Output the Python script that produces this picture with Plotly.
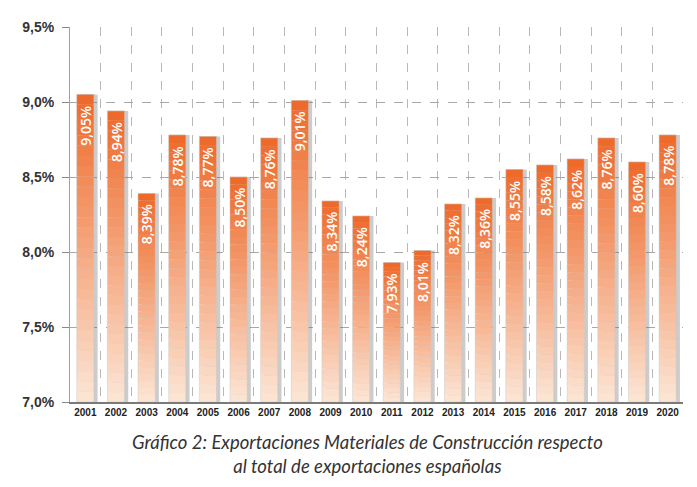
import plotly.graph_objects as go

years = [str(y) for y in range(2001, 2021)]
values = [9.05, 8.94, 8.39, 8.78, 8.77, 8.50, 8.76, 9.01, 8.34, 8.24,
          7.93, 8.01, 8.32, 8.36, 8.55, 8.58, 8.62, 8.76, 8.60, 8.78]
labels = [f"{v:.2f}".replace(".", ",") + "%" for v in values]
y_ticks = [7.0, 7.5, 8.0, 8.5, 9.0, 9.5]
y_tick_labels = ["7,0%", "7,5%", "8,0%", "8,5%", "9,0%", "9,5%"]
BASE = 7.0

top_rgb = (238, 104, 40)
bot_rgb = (252, 230, 214)
N = 30
BW = 0.56

fig = go.Figure()

# shadow
fig.add_trace(go.Bar(
    x=years, y=[v - BASE for v in values], base=BASE, width=BW,
    offset=-BW / 2 + 0.12, marker=dict(color="rgba(110,110,110,0.35)", line=dict(width=0)),
    hoverinfo="skip", showlegend=False))

for k in range(N):
    t = (k + 0.5) / N  # 0 bottom -> 1 top
    c = tuple(int(round(bot_rgb[i] + (top_rgb[i] - bot_rgb[i]) * t)) for i in range(3))
    fig.add_trace(go.Bar(
        x=years,
        y=[(v - BASE) / N * 1.02 for v in values],
        base=[BASE + (v - BASE) * k / N for v in values],
        width=BW, offset=-BW / 2,
        marker=dict(color=f"rgb{c}", line=dict(width=0)),
        hoverinfo="skip", showlegend=False))

# outline trace
fig.add_trace(go.Bar(
    x=years, y=[v - BASE for v in values], base=BASE, width=BW, offset=-BW / 2,
    marker=dict(color="rgba(0,0,0,0)", line=dict(color="rgba(200,200,200,0.6)", width=0.8)),
    hoverinfo="skip", showlegend=False))

annotations = []
for i, (v, lab) in enumerate(zip(values, labels)):
    annotations.append(dict(
        x=i, y=v, xref="x", yref="y", text=lab, textangle=-90,
        xanchor="center", yanchor="top", yshift=-9, showarrow=False,
        font=dict(family="Open Sans", size=14, color="white", weight=600)))

annotations.append(dict(
    text="<i>Gráfico 2: Exportaciones Materiales de Construcción respecto<br>al total de exportaciones españolas</i>",
    xref="paper", yref="paper", x=(367 - 70) / (697 - 84), y=-0.073,
    xanchor="center", yanchor="top", showarrow=False, align="center",
    font=dict(family="Lato", size=18.5, color="#333333")))

fig.update_layout(
    barmode="overlay",
    width=697, height=487,
    margin=dict(l=70, r=14, t=27, b=85),
    paper_bgcolor="white", plot_bgcolor="white",
    xaxis=dict(
        type="category", categoryorder="array", categoryarray=years,
        range=[-0.5, len(years) - 0.5], tickson="boundaries",
        showgrid=True, gridcolor="#b8b8b8", griddash="dash", gridwidth=1,
        showline=True, linecolor="#7a7a7a", linewidth=2,
        ticks="", tickangle=0,
        tickfont=dict(family="Liberation Sans", size=10, color="#222"),
        tickprefix="<b>", ticksuffix="</b>",
    ),
    yaxis=dict(
        range=[7.0, 9.5], tickvals=y_ticks, ticktext=[f"<b>{t}</b>" for t in y_tick_labels],
        showgrid=True, gridcolor="#a8a8a8", griddash="dash", gridwidth=1,
        showline=True, linecolor="#a0a0a0", linewidth=1,
        ticks="outside", ticklen=7, tickcolor="#888",
        ticklabelstandoff=5,
        tickfont=dict(family="Liberation Sans", size=14, color="#333"),
        zeroline=False,
    ),
    annotations=annotations,
)

fig.write_html("out.html")
